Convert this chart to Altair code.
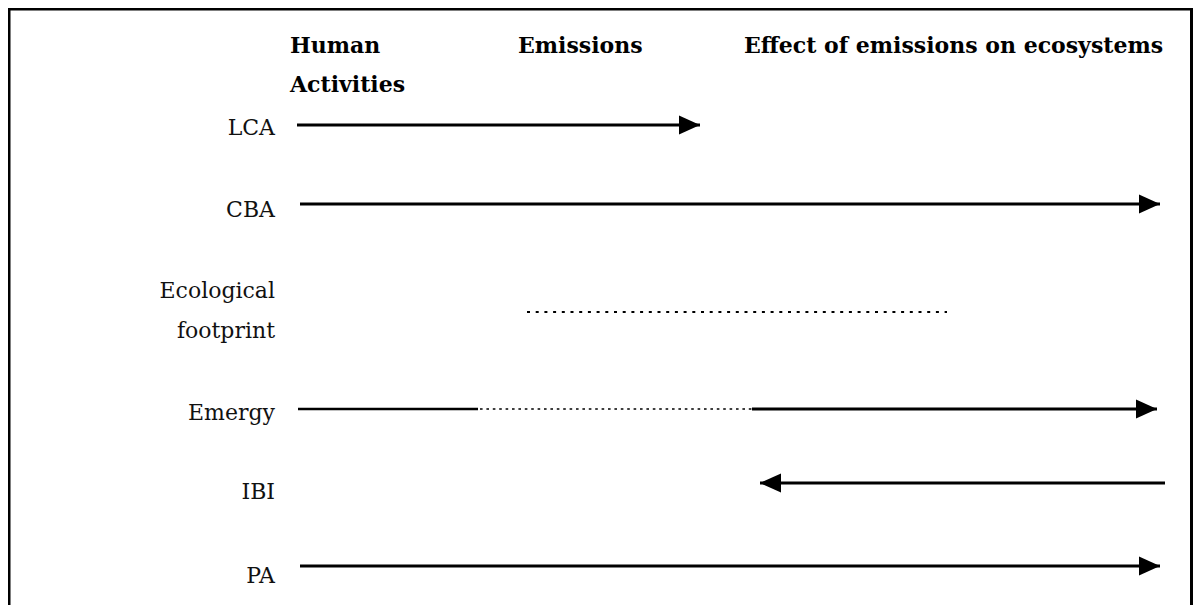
import altair as alt
import pandas as pd

# Layout domains (horizontal stage position, vertical row position)
X_DOMAIN = [8, 1193]
Y_DOMAIN = [8, 605]

# Column headers
header_text = ["Human", "Activities", "Emissions", "Effect of emissions on ecosystems"]
header_x = [290, 290, 518, 744]
header_y = [53, 92, 53, 53]

# Row labels (methods)
label_text = ["LCA", "CBA", "Ecological", "footprint", "Emergy", "IBI", "PA"]
label_x = [275, 275, 275, 275, 275, 275, 275]
label_y = [135, 217, 298, 338, 420, 499, 583]

# Coverage segments of each method
seg_method = ["LCA", "CBA", "Ecological footprint", "Emergy", "Emergy", "Emergy", "IBI", "PA"]
seg_y = [125, 204, 312, 409, 409, 409, 483, 566]
seg_x1 = [297, 300, 527, 298, 480, 752, 1165, 300]
seg_x2 = [700, 1160, 947, 478, 752, 1157, 760, 1160]
seg_style = ["solid", "solid", "dots", "thin", "finedots", "solid", "solid", "solid"]
seg_head = ["right", "right", "none", "none", "none", "right", "left", "right"]

# Frame of the figure
frame_x = [9, 1191.5]
frame_y = [9, 700]

headers = pd.DataFrame({"text": header_text, "x": header_x, "y": header_y})
labels = pd.DataFrame({"text": label_text, "x": label_x, "y": label_y})
segs = pd.DataFrame({"method": seg_method, "y": seg_y, "x1": seg_x1, "x2": seg_x2,
                     "style": seg_style, "head": seg_head})
frame = pd.DataFrame({"x1": [frame_x[0]], "x2": [frame_x[1]], "y1": [frame_y[0]], "y2": [frame_y[1]]})

xs = alt.Scale(domain=X_DOMAIN, nice=False, zero=False)
ys = alt.Scale(domain=Y_DOMAIN, nice=False, zero=False, reverse=True)

FONT = "DejaVu Serif"

frame_layer = alt.Chart(frame).mark_rect(fill=None, stroke="black", strokeWidth=3).encode(
    x=alt.X("x1:Q", scale=xs, axis=None), x2="x2:Q",
    y=alt.Y("y1:Q", scale=ys, axis=None), y2="y2:Q")

header_layer = alt.Chart(headers).mark_text(
    font=FONT, fontSize=22, fontWeight="bold", align="left", baseline="alphabetic", color="black"
).encode(x=alt.X("x:Q", scale=xs, axis=None), y=alt.Y("y:Q", scale=ys, axis=None), text="text:N")

label_layer = alt.Chart(labels).mark_text(
    font=FONT, fontSize=22, align="right", baseline="alphabetic", color="#111111"
).encode(x=alt.X("x:Q", scale=xs, axis=None), y=alt.Y("y:Q", scale=ys, axis=None), text="text:N")

line_layer = alt.Chart(segs).mark_rule(color="black", strokeCap="butt").encode(
    x=alt.X("x1:Q", scale=xs, axis=None), x2="x2:Q",
    y=alt.Y("y:Q", scale=ys, axis=None),
    strokeDash=alt.StrokeDash("style:N", legend=None, scale=alt.Scale(
        domain=["solid", "thin", "dots", "finedots"],
        range=[[1, 0], [1, 0], [3, 5.7], [2.6, 3.8]])),
    strokeWidth=alt.StrokeWidth("style:N", legend=None, scale=alt.Scale(
        domain=["solid", "thin", "dots", "finedots"], range=[3, 1.5, 3, 2.6])),
)

head_right = "M0,0 L-2,-0.9 L-2,0.9 Z"
head_left = "M0,0 L2,-0.9 L2,0.9 Z"

head_layer = alt.Chart(segs).transform_filter(alt.datum.head != "none").mark_point(
    filled=True, color="black", opacity=1, size=440, strokeWidth=0
).encode(
    x=alt.X("x2:Q", scale=xs, axis=None),
    y=alt.Y("y:Q", scale=ys, axis=None),
    shape=alt.Shape("head:N", legend=None, scale=alt.Scale(
        domain=["right", "left"], range=[head_right, head_left])),
)

chart = alt.layer(frame_layer, line_layer, head_layer, header_layer, label_layer).properties(
    width=1185, height=597, padding=0, autosize=alt.AutoSizeParams(type="none"),
    background="white"
).configure_view(stroke=None)

chart.save("out.html", embed_options={"renderer": "svg", "actions": False})
